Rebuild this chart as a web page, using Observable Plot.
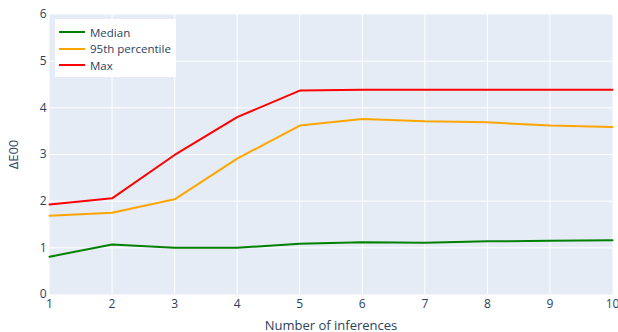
<!DOCTYPE html>
<html>
<head>
<meta charset="utf-8">
<script src="https://cdn.jsdelivr.net/npm/d3@7"></script>
<script src="https://cdn.jsdelivr.net/npm/@observablehq/plot@0.6"></script>
<style>
  body { margin: 0; background: #fff; }
  #wrap { position: relative; width: 618px; height: 332px; font-family: "Open Sans", verdana, arial, sans-serif; }
  #legend { position: absolute; left: 55px; top: 19px; width: 121px; height: 58px; background: #fff; font-size: 11.5px; color: #2a3f5f; }
  .item { position: absolute; left: 4px; height: 16px; display: flex; align-items: center; white-space: nowrap; }
  .item svg { margin-right: 5px; flex: none; }
  g[aria-label="x-axis label"] text, g[aria-label="y-axis label"] text { font-size: 13px; }
</style>
</head>
<body>
<div id="wrap"></div>
<script>
const inferences = [1, 2, 3, 4, 5, 6, 7, 8, 9, 10];
const median = [0.81, 1.07, 1.00, 1.00, 1.09, 1.12, 1.11, 1.14, 1.15, 1.16];
const p95 = [1.69, 1.75, 2.04, 2.91, 3.62, 3.76, 3.71, 3.69, 3.62, 3.59];
const maxv = [1.93, 2.06, 2.99, 3.80, 4.37, 4.39, 4.39, 4.39, 4.39, 4.39];
const seriesNames = ["Median", "95th percentile", "Max"];
const seriesColors = ["green", "orange", "red"];
const xTicks = [1, 2, 3, 4, 5, 6, 7, 8, 9, 10];
const yTicks = [0, 1, 2, 3, 4, 5, 6];

const seriesValues = [median, p95, maxv];
const data = [];
seriesNames.forEach((name, i) => {
  inferences.forEach((x, j) => data.push({series: name, x, y: seriesValues[i][j]}));
});

const chart = Plot.plot({
  width: 618,
  height: 332,
  marginLeft: 49,
  marginRight: 6,
  marginTop: 14,
  marginBottom: 38,
  style: {fontFamily: '"Open Sans", verdana, arial, sans-serif', fontSize: "12px", color: "#2a3f5f", background: "#fff"},
  x: {domain: [1, 10]},
  y: {domain: [0, 6]},
  color: {domain: seriesNames, range: seriesColors},
  marks: [
    Plot.frame({fill: "#E5ECF6", stroke: null}),
    Plot.gridX(xTicks.slice(1, -1), {stroke: "#fff", strokeOpacity: 1, strokeWidth: 1}),
    Plot.gridY(yTicks.slice(1, -1), {stroke: "#fff", strokeOpacity: 1, strokeWidth: 1}),
    Plot.axisX(xTicks, {tickSize: 0, tickPadding: 5, fill: "#2a3f5f", fontSize: 12, label: "Number of inferences", labelAnchor: "center", labelArrow: "none", labelOffset: 35}),
    Plot.axisY(yTicks, {tickSize: 0, tickPadding: 3, fill: "#2a3f5f", fontSize: 12, label: "ΔE00", labelAnchor: "center", labelArrow: "none", labelOffset: 41}),
    Plot.line(data, {x: "x", y: "y", z: "series", stroke: "series", strokeWidth: 2})
  ]
});

const wrap = document.getElementById("wrap");
wrap.appendChild(chart);

const legend = document.createElement("div");
legend.id = "legend";
seriesNames.forEach((name, i) => {
  const it = document.createElement("div");
  it.className = "item";
  it.style.top = (5 + i * 16.5) + "px";
  it.innerHTML = `<svg width="26" height="6"><line x1="0" x2="26" y1="3" y2="3" stroke="${seriesColors[i]}" stroke-width="2"/></svg><span>${name}</span>`;
  legend.appendChild(it);
});
wrap.appendChild(legend);
</script>
</body>
</html>
